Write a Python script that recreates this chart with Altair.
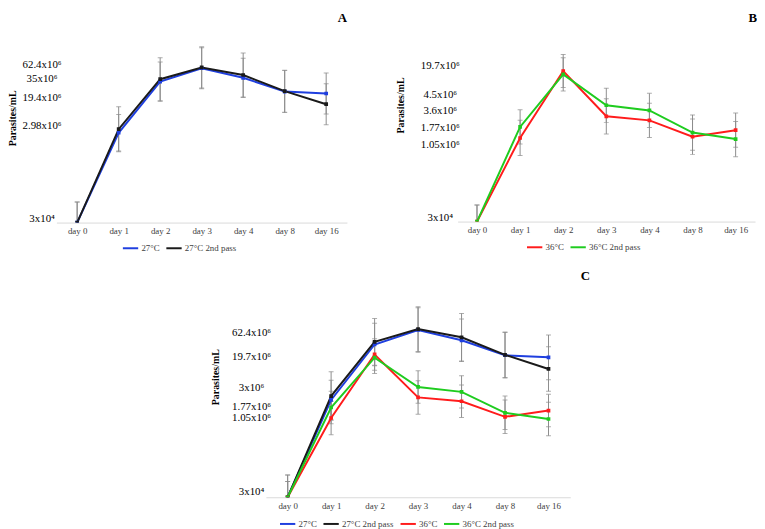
import altair as alt
import pandas as pd

# ---------------- data ----------------
days = ["day 0", "day 1", "day 2", "day 3", "day 4", "day 8", "day 16"]
series = ["27°C", "27°C 2nd pass", "36°C", "36°C 2nd pass"]
colors = ["#1f3fdf", "#1a1a1a", "#ff1c1c", "#1fcc1f"]

v27 = [3e4, 2.5e6, 31e6, 60e6, 37.5e6, 19e6, 17.3e6]
v27_2nd = [3e4, 2.98e6, 35e6, 62.4e6, 43e6, 19.4e6, 10.2e6]
v36 = [3e4, 1.1e6, 19.7e6, 2.8e6, 2.35e6, 1.16e6, 1.54e6]
v36_2nd = [3e4, 1.77e6, 17e6, 4.5e6, 3.6e6, 1.39e6, 1.05e6]

# error bar half-length, in decades (log10 units)
e27 = [0.44, 0.39, 0.42, 0.44, 0.42, 0.45, 0.44]
e27_2nd = [0.44, 0.48, 0.46, 0.44, 0.47, 0.45, 0.44]
e36 = [0.31, 0.33, 0.31, 0.33, 0.32, 0.33, 0.32]
e36_2nd = [0.31, 0.32, 0.31, 0.32, 0.32, 0.33, 0.33]

# y tick labels per panel
ticksA = [3e4, 2.98e6, 19.4e6, 35e6, 62.4e6]
labelsA = ["3x10⁴", "2.98x10⁶", "19.4x10⁶", "35x10⁶", "62.4x10⁶"]
ticksB = [3e4, 1.05e6, 1.77e6, 3.6e6, 4.5e6, 19.7e6]
labelsB = ["3x10⁴", "1.05x10⁶", "1.77x10⁶", "3.6x10⁶", "4.5x10⁶", "19.7x10⁶"]
ticksC = [3e4, 1.05e6, 1.77e6, 3e6, 19.7e6, 62.4e6]
labelsC = ["3x10⁴", "1.05x10⁶", "1.77x10⁶", "3x10⁶", "19.7x10⁶", "62.4x10⁶"]

# ---------------- table ----------------
rows = []
for s, c, vals, errs in zip(series, colors, [v27, v27_2nd, v36, v36_2nd],
                            [e27, e27_2nd, e36, e36_2nd]):
    for d, v, e in zip(days, vals, errs):
        rows.append({"day": d, "series": s, "col": c, "value": v,
                     "lo": v / 10 ** e, "hi": v * 10 ** e})
df = pd.DataFrame(rows)

FONT = "Liberation Serif"


def label_expr(ticks, labels):
    expr = "''"
    for t, l in zip(ticks, labels):
        expr = f"datum.value == {int(t)} ? '{l}' : ({expr})"
    return expr


def label_offset(ticks, offs):
    conds = [{"test": f"datum.value == {int(t)}", "value": o}
             for t, o in zip(ticks, offs) if o != 0]
    return {"condition": conds, "value": 0}


def panel(letter, members, width, height, ymax, pad, ticks, labels, offs,
          lab_pad, tx, ty, legx, legy, title_dx, title_off):
    data = df[df.series.isin(members)]
    cols = [colors[series.index(m)] for m in members]
    xenc = alt.X("day:N", sort=days,
                 scale=alt.Scale(type="point", padding=pad),
                 axis=alt.Axis(title=None, labelAngle=0, ticks=False, tickSize=0,
                               domainColor="#d9d9d9", domainWidth=1,
                               labelFont=FONT, labelFontSize=9,
                               labelColor="#404040", labelPadding=4))
    yscale = alt.Scale(type="log", domain=[3e4, ymax], nice=False)
    yaxis = alt.Axis(values=ticks, labelExpr=label_expr(ticks, labels),
                     labelOffset=label_offset(ticks, offs),
                     title="Parasites/mL", titleFont=FONT, titleFontSize=10,
                     titleFontWeight="bold", titleColor="#000000",
                     titleAngle=270, titleAlign="center", titleBaseline="middle",
                     titleX=tx, titleY=ty,
                     domain=False, ticks=False, tickSize=0, grid=False,
                     labelAlign="center", labelBaseline="middle",
                     labelPadding=lab_pad, labelOverlap=False,
                     labelFont=FONT, labelFontSize=11, labelColor="#000000")
    base = alt.Chart(data)
    bars = base.mark_rule(color="#8c8c8c", strokeWidth=1, clip=True).encode(
        x=xenc, y=alt.Y("lo:Q", scale=yscale, axis=yaxis), y2="hi:Q")
    cap_hi = base.mark_tick(color="#8c8c8c", thickness=1, size=5, clip=True).encode(
        x=xenc, y=alt.Y("hi:Q", scale=yscale, axis=yaxis))
    cap_lo = base.mark_tick(color="#8c8c8c", thickness=1, size=5, clip=True).encode(
        x=xenc, y=alt.Y("lo:Q", scale=yscale, axis=yaxis))
    line = base.mark_line(strokeWidth=2, clip=True).encode(
        x=xenc, y=alt.Y("value:Q", scale=yscale, axis=yaxis),
        color=alt.Color("series:N", sort=members,
                        scale=alt.Scale(domain=members, range=cols),
                        legend=alt.Legend(title=None, orient="none",
                                          direction="horizontal",
                                          legendX=legx, legendY=legy,
                                          symbolType="stroke", symbolSize=240,
                                          symbolStrokeWidth=2,
                                          labelFont=FONT, labelFontSize=9,
                                          labelColor="#404040", labelOffset=2,
                                          columnPadding=2)))
    pts = base.mark_point(filled=True, shape="square", size=14, opacity=1,
                          clip=True).encode(
        x=xenc, y=alt.Y("value:Q", scale=yscale, axis=yaxis),
        color=alt.Color("col:N", scale=None))
    return alt.layer(bars, cap_hi, cap_lo, line, pts).properties(
        width=width, height=height,
        title=alt.TitleParams(letter, anchor="end", frame="group", font=FONT,
                              fontSize=13, fontWeight="bold", color="#000000",
                              dx=title_dx, offset=title_off))


A = panel("A", series[:2], 294, 214, 1e9, 0.5, ticksA, labelsA,
          [-4, -3.5, 6, -1, -3.4], 15, -44, 108, 66, 231, 0, -14)
B = panel("B", series[2:], 301, 213, 2.6e8, 0.45, ticksB, labelsB,
          [-4, 5.4, 0.6, 0, -10.5, -6], 18, -58, 95, 69, 230, 2, -14)
C = panel("C", series, 308, 232, 1e9, 0.5, ticksC, labelsC,
          [-6, -1, -1, -8, 2, 3], 15, -51, 110, 13, 250, 20, -15)

spacer = alt.Chart(pd.DataFrame({"s": [0]})).mark_point(opacity=0).encode(
    x=alt.X("s:Q", axis=None), y=alt.Y("s:Q", axis=None)).properties(
    width=156, height=10)

top = alt.hconcat(A, B, spacing=49).resolve_scale(color="independent")
bottom = alt.hconcat(spacer, C, spacing=0).resolve_scale(color="independent")
chart = alt.vconcat(top, bottom, spacing=15).properties(padding=0).resolve_scale(
    color="independent").configure_view(stroke=None)

chart.save("out.html", embed_options={"renderer": "svg", "actions": False})
